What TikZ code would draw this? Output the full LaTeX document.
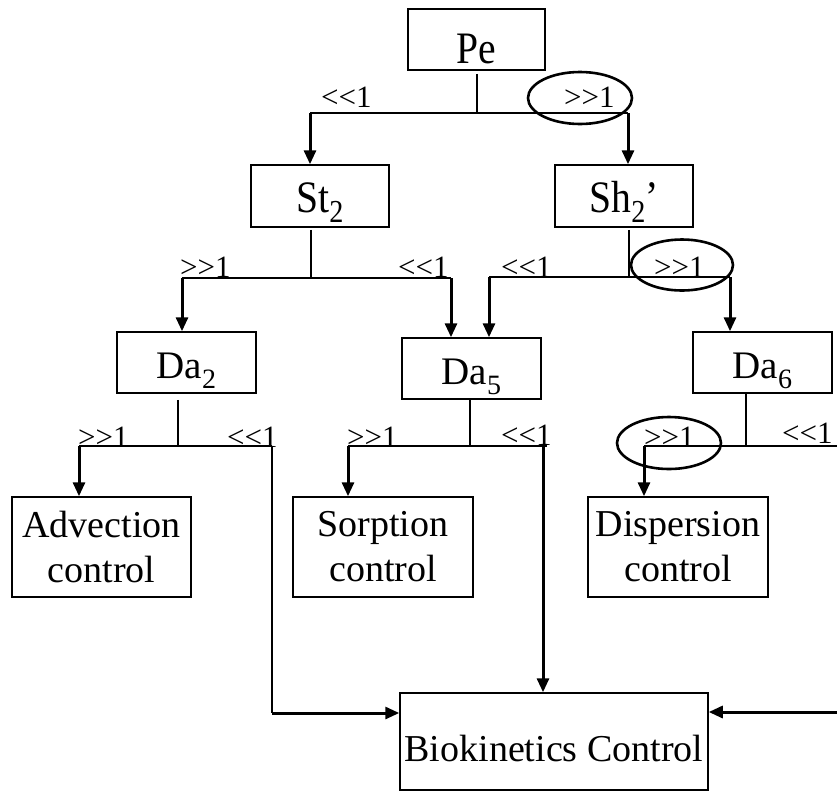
\documentclass[tikz,border=0pt]{standalone}
\usepackage{fontspec}
\setmainfont{Liberation Serif}[Ligatures=TeXOff]
\newfontfamily\tallfont{Liberation Serif}[Ligatures=TeXOff,FakeStretch=0.88]
\usetikzlibrary{arrows.meta,shapes.geometric}
\newcommand\sbs[1]{\raisebox{-10pt}{\fontsize{28}{28}\selectfont #1}}
\newcommand\tsbs[1]{\raisebox{-10pt}{\fontsize{32}{32}\selectfont #1}}
\begin{document}
\begin{tikzpicture}[x=1pt,y=-1pt,
  box/.style={draw,line width=1.5pt,inner sep=0pt,font=\fontsize{39}{45}\selectfont,align=center},
  tallbox/.style={box,font=\tallfont\fontsize{45}{45}\selectfont},
  br/.style={line width=1.6pt},
  stem/.style={line width=1.3pt},
  arr/.style={line width=3pt,-{Triangle[length=14pt,width=12pt]}},
  lbl/.style={anchor=base west,inner sep=0pt,font=\fontsize{31}{31}\selectfont},
  ring/.style={draw,ellipse,line width=2.6pt,inner sep=0pt}]
\useasboundingbox (0,0) rectangle (837,804);
% boxes
\node[tallbox,minimum width=137pt,minimum height=61pt,text height=47pt,text depth=0pt] (pe) at (476.5,39.5) {Pe};
\node[tallbox,minimum width=138pt,minimum height=62pt,text height=32pt,text depth=0pt] (st) at (320,196) {St\tsbs{2}};
\node[tallbox,minimum width=138pt,minimum height=62pt,text height=32pt,text depth=0pt] (sh) at (624,196) {Sh\tsbs{2}’};
\node[box,minimum width=139pt,minimum height=61pt,text height=31pt,text depth=0pt] (da2) at (186.5,362.5) {Da\sbs{2}};
\node[box,minimum width=139pt,minimum height=61pt,text height=31pt,text depth=0pt] (da5) at (471.5,368.5) {Da\sbs{5}};
\node[box,minimum width=139pt,minimum height=61pt,text height=31pt,text depth=0pt] (da6) at (762.5,362.5) {Da\sbs{6}};
\node[box,font=\fontsize{38}{45}\selectfont,minimum width=179pt,minimum height=100pt] (adv) at (101.5,547) {Advection\\control};
\node[box,font=\fontsize{38}{45}\selectfont,minimum width=180pt,minimum height=100pt] (sor) at (383,547) {Sorption\\control};
\node[box,font=\fontsize{38}{45}\selectfont,minimum width=180pt,minimum height=100pt] (dis) at (678,547) {Dispersion\\control};
\node[box,font=\fontsize{38}{45}\selectfont,minimum width=308pt,minimum height=97pt,text height=40pt,text depth=0pt] (bio) at (554,741.5) {Biokinetics Control};
% Pe branch
\coordinate (jpe) at (477,113);
\coordinate (pel) at (310,113);
\coordinate (per) at (628,113);
\draw[stem] (pe.south -| jpe) ++(0,3) -- (jpe);
\draw[br] (pel) -- (per);
\draw[arr] (pel) -- (pel |- st.north);
\draw[arr] (per) -- (per |- sh.north);
% St2 branch
\coordinate (jst) at (311,278);
\coordinate (stl) at (182,278);
\coordinate (str) at (451,278);
\draw[stem] (st.south -| jst) ++(0,2) -- (jst);
\draw[br] (stl) -- (str);
\draw[arr] (stl) -- (stl |- da2.north);
\draw[arr] (str) -- (str |- da5.north);
% Sh2' branch
\coordinate (jsh) at (629,277);
\coordinate (shl) at (489,277);
\coordinate (shr) at (730,277);
\draw[stem] (sh.south -| jsh) ++(0,2) -- (jsh);
\draw[br] (shl) -- (shr);
\draw[arr] (shl) -- (shl |- da5.north);
\draw[arr] (shr) -- (shr |- da6.north);
% Da2 branch
\coordinate (jd2) at (178,446);
\coordinate (d2l) at (79,446);
\coordinate (d2r) at (272,446);
\coordinate (d2b) at (272,713);
\draw[stem] (da2.south -| jd2) ++(0,6) -- (jd2);
\draw[br] (d2l) -- (d2r);
\draw[arr] (d2l) -- (d2l |- adv.north);
\draw[line width=2pt] (d2r) -- (d2b);
\draw[arr] (d2b) -- (d2b -| bio.west);
% Da5 branch
\coordinate (jd5) at (470,446);
\coordinate (d5l) at (348,446);
\coordinate (d5r) at (547,446);
\coordinate (d5a) at (543,446);
\draw[stem] (da5.south -| jd5) -- (jd5);
\draw[br] (d5l) -- (d5r);
\draw[arr] (d5l) -- (d5l |- sor.north);
\draw[arr] (d5a) -- (d5a |- bio.north);
% Da6 branch
\coordinate (jd6) at (746,446);
\coordinate (d6l) at (644,446);
\coordinate (d6r) at (837,446);
\draw[stem] (da6.south -| jd6) -- (jd6);
\draw[br] (d6l) -- (d6r);
\draw[arr] (d6l) -- (d6l |- dis.north);
\coordinate (rin) at (837,712);
\draw[arr] (rin) -- (rin -| bio.east);
% labels
\node[lbl] (l1) at (321,107) {<<1};
\node[lbl] (l2) at (564,107) {>>1};
\node[lbl] (l3) at (180,277) {>>1};
\node[lbl] (l4) at (398,277) {<<1};
\node[lbl] (l5) at (501,277) {<<1};
\node[lbl] (l6) at (654,277) {>>1};
\node[lbl] (l7) at (78,447) {>>1};
\node[lbl] (l8) at (227,447) {<<1};
\node[lbl] (l9) at (347,447) {>>1};
\node[lbl] (l10) at (501,445) {<<1};
\node[lbl] (l11) at (644,447) {>>1};
\node[lbl] (l12) at (782,443) {<<1};
% ellipses
\node[ring,minimum width=104pt,minimum height=52pt] (e1) at (580,98) {};
\node[ring,minimum width=102pt,minimum height=51pt] (e2) at (682,265) {};
\node[ring,minimum width=104pt,minimum height=52pt] (e3) at (669,443) {};
\end{tikzpicture}
\end{document}
